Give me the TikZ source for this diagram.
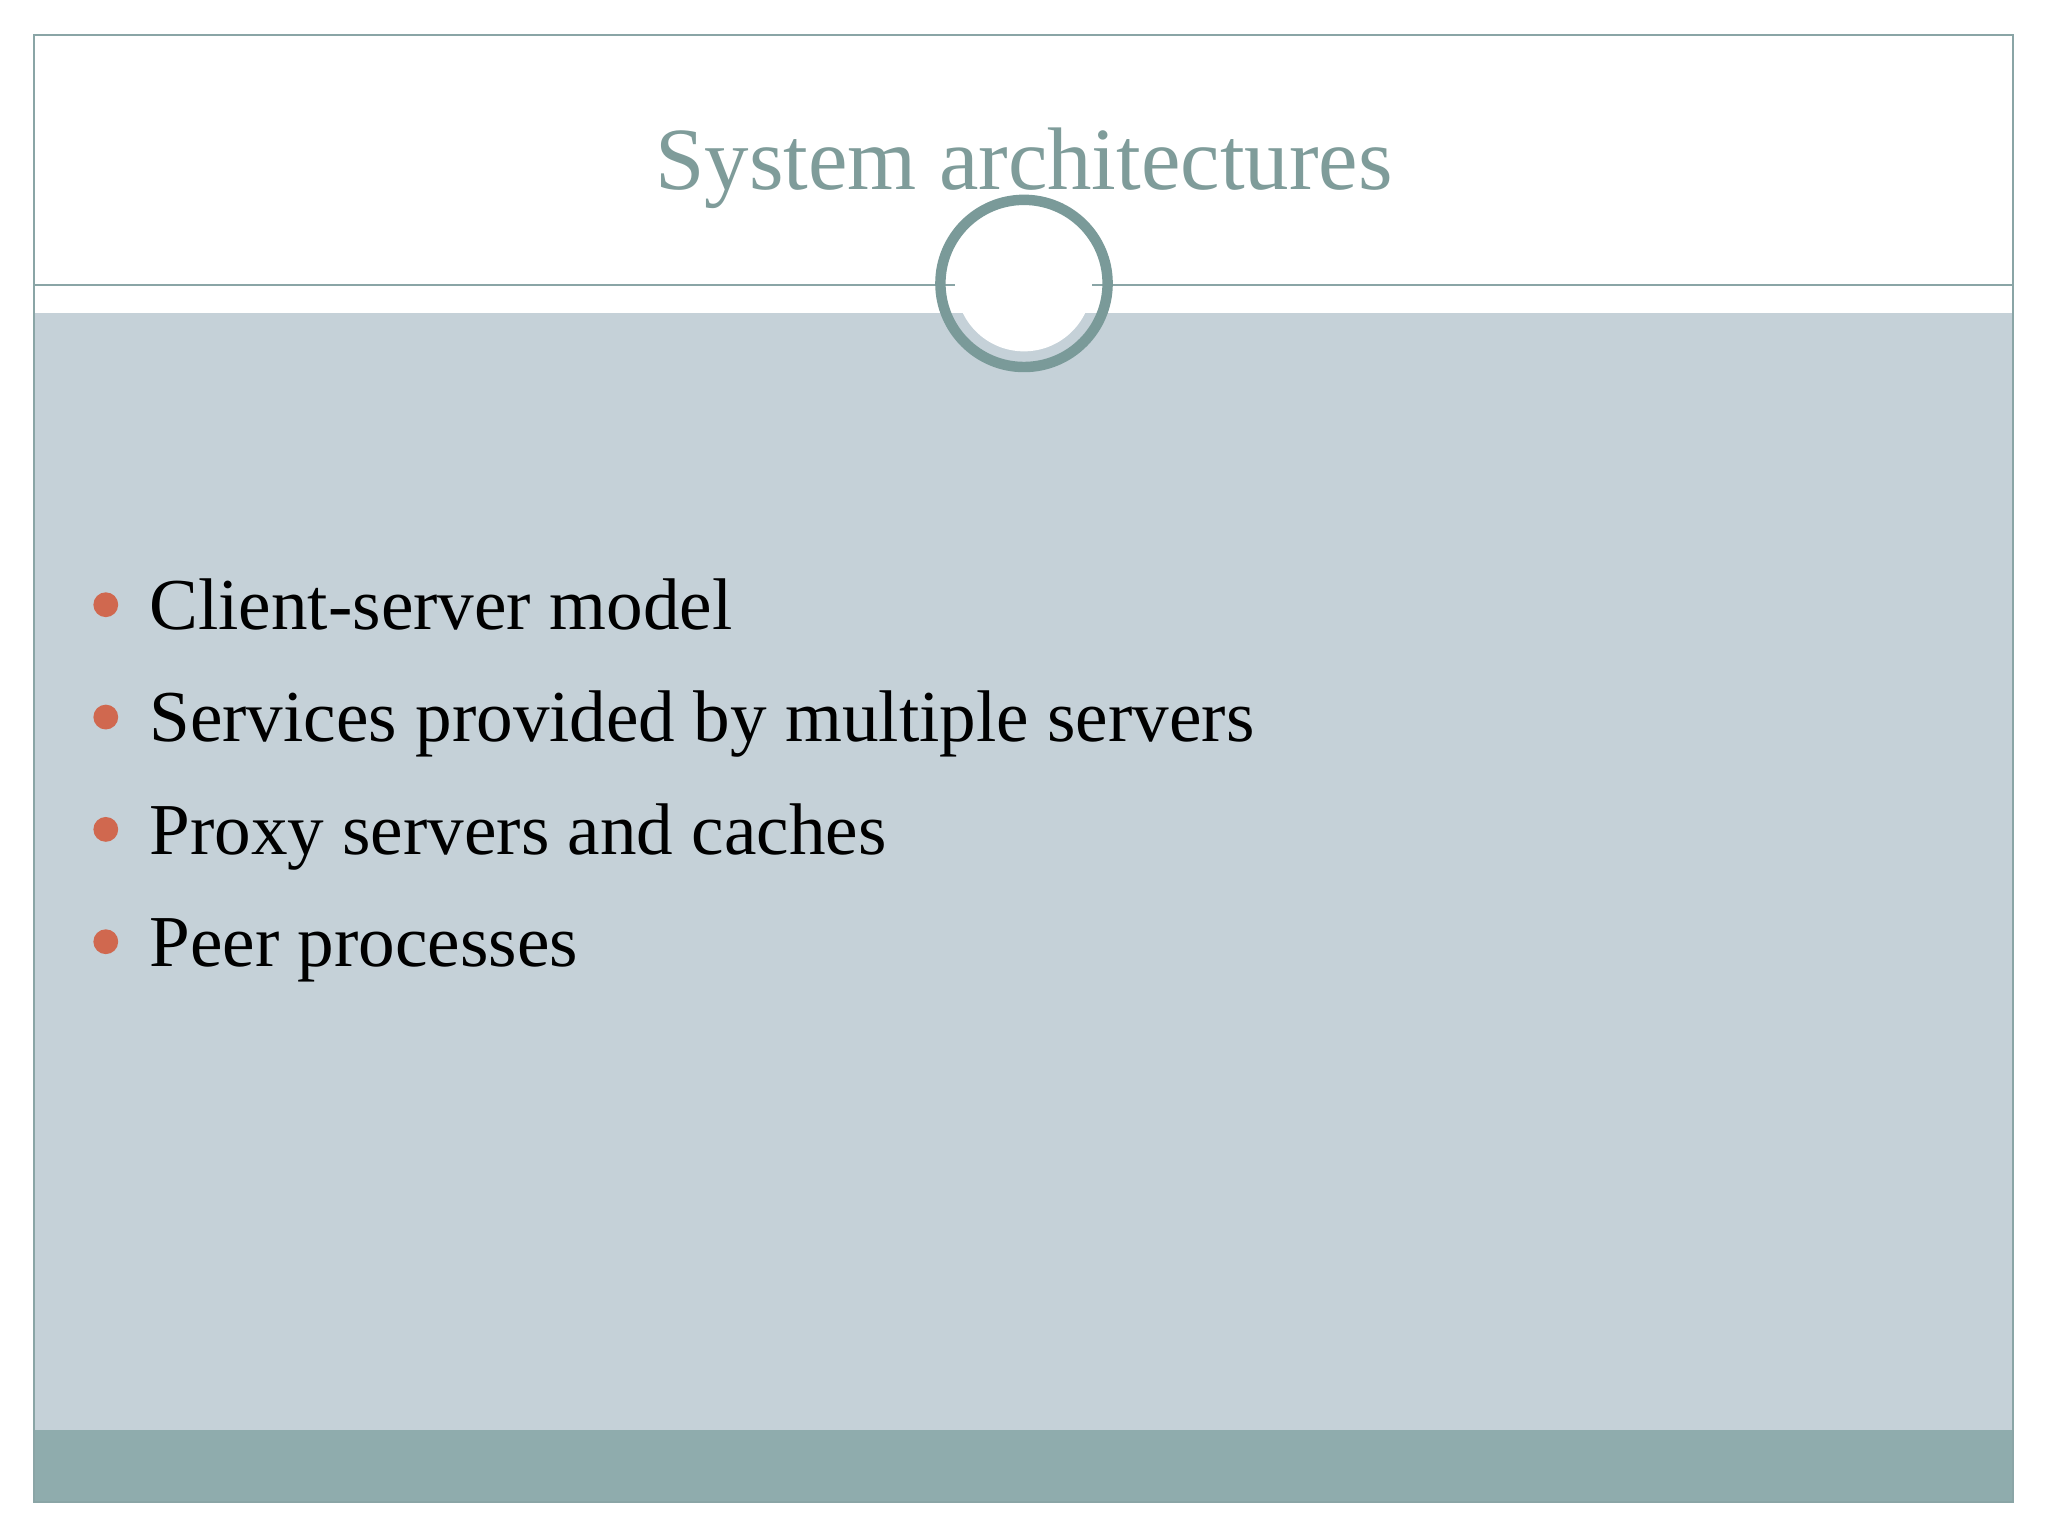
\documentclass[tikz,border=0pt]{standalone}
\usepackage{fontspec}
\setmainfont{Liberation Serif}
\definecolor{frame}{HTML}{8AA5A6}
\definecolor{body}{HTML}{C5D1D8}
\definecolor{foot}{HTML}{8FACAD}
\definecolor{ring}{HTML}{7A9A99}
\definecolor{titlec}{HTML}{7F9C9A}
\definecolor{dotc}{HTML}{D0684F}
\tikzset{bullet/.style={anchor=base west,font=\fontsize{28}{30}\selectfont,inner sep=0pt},
 dot/.style={circle,fill=dotc,inner sep=0pt,minimum size=9.5pt}}
\begin{document}
\begin{tikzpicture}[x=0.5pt,y=-0.5pt]
\useasboundingbox (0,0) rectangle (1568,1176);
\fill[white] (0,0) rectangle (1568,1176);
\fill[body] (26,240) rectangle (1541,1095);
\fill[foot] (26,1095) rectangle (1541,1150);
\draw[frame,line width=0.6pt] (26,27) rectangle (1541,1150);
\draw[frame,line width=0.6pt] (26,218) -- (731,218);
\draw[frame,line width=0.6pt] (836,218) -- (1541,218);
\fill[white] (784,217) circle[radius=52];
\node[circle,draw=ring,line width=4pt,minimum size=64pt,inner sep=0pt] (ring) at (784,217) {};
\node[anchor=base,text=titlec,font=\fontsize{34}{36}\selectfont,inner sep=0pt] (title) at (784,145) {System architectures};
\node[dot] (d1) at (81,463) {};
\node[dot] (d2) at (81,549) {};
\node[dot] (d3) at (81,635) {};
\node[dot] (d4) at (81,721) {};
\node[bullet] (b1) at (114,482) {Client-server model};
\node[bullet] (b2) at (114,568) {Services provided by multiple servers};
\node[bullet] (b3) at (114,654) {Proxy servers and caches};
\node[bullet] (b4) at (114,740) {Peer processes};
\end{tikzpicture}
\end{document}
